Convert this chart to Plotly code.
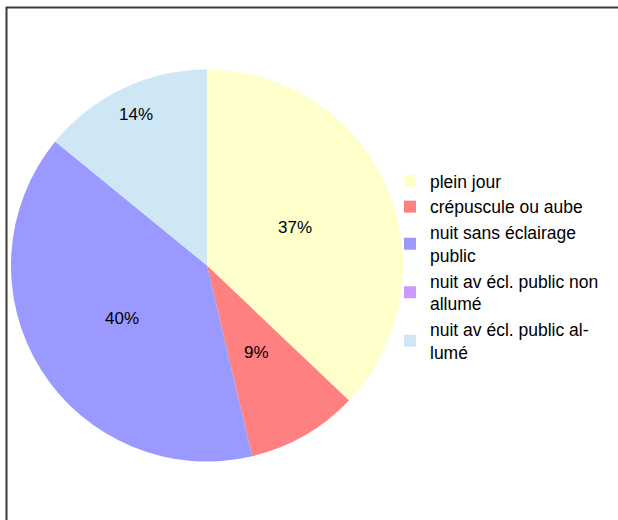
import math
import plotly.graph_objects as go

categories = ["plein jour", "crépuscule ou aube", "nuit sans éclairage<br>public",
              "nuit av écl. public non<br>allumé", "nuit av écl. public al-<br>lumé"]
values = [37.1, 9.2, 39.6, 0.0, 14.1]
colors = ["#FFFFCC", "#FF8080", "#9999FF", "#CC99FF", "#CFE7F5"]
# radial placement of each percentage label, as a fraction of the radius (style)
label_radius = [0.49, 0.51, 0.51, 0.5, 0.85]

W, H = 618, 520
cx, cy, R = 207, 265.5, 196

total = sum(values)

fig = go.Figure(go.Pie(
    labels=categories,
    values=values,
    marker=dict(colors=colors, line=dict(width=0)),
    sort=False,
    direction="clockwise",
    rotation=0,
    textinfo="none",
    domain=dict(x=[(cx - R) / W, (cx + R) / W], y=[(H - cy - R) / H, (H - cy + R) / H]),
    showlegend=True,
    hoverinfo="label+percent",
))

# percentage labels placed at the middle angle of each slice
annotations = []
cum = 0.0
for v, f in zip(values, label_radius):
    mid = (cum + v / 2) / total * 2 * math.pi
    cum += v
    if v <= 0:
        continue
    px = cx + f * R * math.sin(mid)
    py = cy - f * R * math.cos(mid)
    annotations.append(dict(
        x=px / W, y=1 - py / H, xref="paper", yref="paper",
        text=f"{round(v / total * 100)}%", showarrow=False,
        xanchor="center", yanchor="middle",
        font=dict(family="Liberation Sans", size=17, color="black"),
    ))

fig.update_layout(
    width=W, height=H,
    margin=dict(l=0, r=0, t=0, b=0),
    paper_bgcolor="white",
    font=dict(family="Liberation Sans", size=17, color="black"),
    legend=dict(
        x=390 / W, y=1 - 163 / H, xanchor="left", yanchor="top",
        font=dict(family="Liberation Sans", size=17.5, color="black"),
        bgcolor="rgba(0,0,0,0)", itemclick=False,
    ),
    annotations=annotations,
    shapes=[
        dict(type="line", xref="paper", yref="paper", x0=6 / W, x1=1.0, y0=1 - 7.5 / H, y1=1 - 7.5 / H,
             line=dict(color="#3a3a3a", width=2)),
        dict(type="line", xref="paper", yref="paper", x0=6.5 / W, x1=6.5 / W, y0=1 - 7 / H, y1=0,
             line=dict(color="#3a3a3a", width=2)),
    ],
)

fig.write_html("out.html", config={"displayModeBar": False},
               post_script="document.body.style.margin='0';document.body.style.overflow='hidden';")
